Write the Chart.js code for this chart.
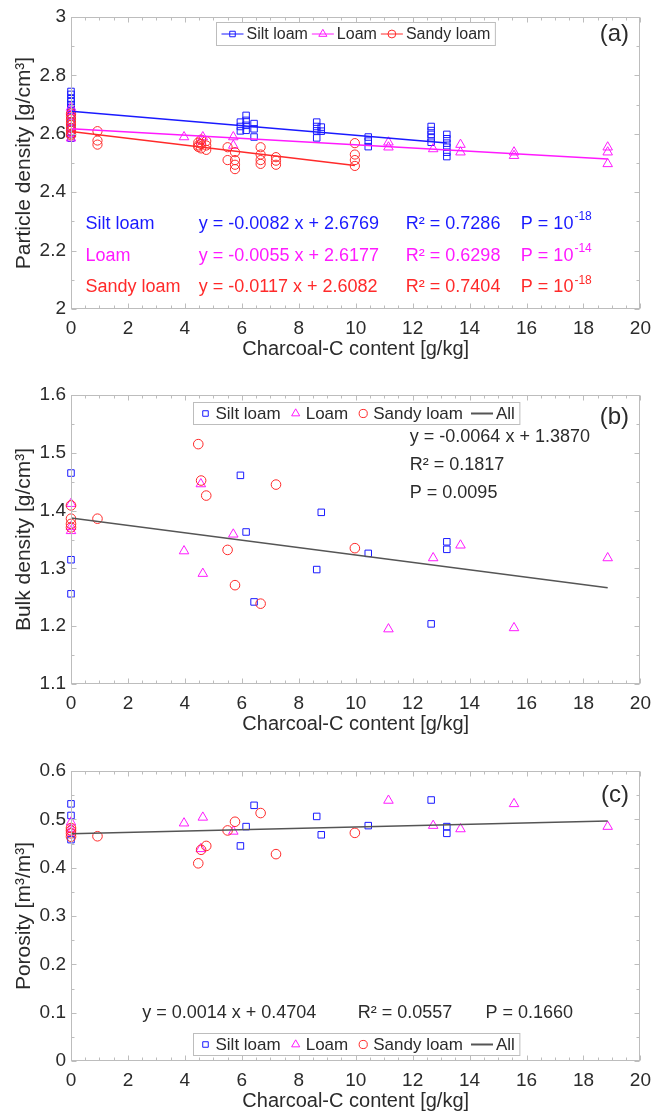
<!DOCTYPE html>
<html>
<head>
<meta charset="utf-8">
<script src="https://cdn.jsdelivr.net/npm/chart.js@4/dist/chart.umd.min.js"></script>
<style>
  html, body { margin: 0; padding: 0; background: #fff; }
  #wrap { position: relative; width: 659px; height: 1118px; }
  canvas { position: absolute; left: 0; }
</style>
</head>
<body>
<div id="wrap">
  <canvas id="chartA" width="659" height="375" style="top:0"></canvas>
  <canvas id="chartB" width="659" height="375" style="top:378px"></canvas>
  <canvas id="chartC" width="659" height="364" style="top:754px"></canvas>
</div>
<script>
// --- (a) particle density [g/cm3] ---
const pdSiltX  = [0,0,0,0,0,0,0,0,0,0,0,0, 5.95,5.95,5.95, 6.15,6.15,6.15,6.15, 6.43,6.43,6.43, 8.63,8.63,8.63,8.63, 8.79,8.79, 10.44,10.44,10.44, 12.65,12.65,12.65,12.65,12.65, 13.2,13.2,13.2,13.2,13.2,13.2];
const pdSiltY  = [2.745,2.735,2.72,2.71,2.70,2.69,2.68,2.665,2.64,2.62,2.60,2.585, 2.64,2.625,2.61, 2.663,2.646,2.629,2.612, 2.635,2.617,2.589, 2.64,2.625,2.61,2.586, 2.623,2.609, 2.589,2.575,2.556, 2.625,2.611,2.598,2.586,2.571, 2.598,2.583,2.568,2.554,2.537,2.522];
const pdLoamX  = [0,0,0,0,0,0,0, 3.97, 4.56,4.63, 5.7,5.7, 11.15,11.15, 12.72, 13.68,13.68, 15.56,15.56, 18.85,18.85,18.85];
const pdLoamY  = [2.69,2.675,2.66,2.64,2.62,2.60,2.585, 2.589, 2.575,2.589, 2.589,2.56, 2.571,2.554, 2.548, 2.563,2.537, 2.537,2.525, 2.554,2.537,2.497];
const pdSandyX = [0,0,0,0,0,0,0,0,0, 0.93,0.93,0.93, 4.47,4.47,4.47, 4.57,4.57,4.57, 4.75,4.75,4.75, 5.5,5.5, 5.76,5.76,5.76,5.76, 6.66,6.66,6.66,6.66, 7.2,7.2,7.2, 9.97,9.97,9.97,9.97];
const pdSandyY = [2.67,2.66,2.65,2.64,2.63,2.62,2.61,2.60,2.595, 2.609,2.577,2.563, 2.57,2.555,2.56, 2.55,2.58,2.565, 2.545,2.575,2.56, 2.554,2.51, 2.537,2.51,2.494,2.479, 2.554,2.529,2.51,2.497, 2.52,2.508,2.494, 2.568,2.529,2.51,2.49];
// regression per texture: slope, intercept, x range
const pdFitSlope = [-0.0082, -0.0055, -0.0117];
const pdFitIcept = [2.6769, 2.6177, 2.6082];
const pdFitXmax  = [13.2, 18.85, 9.97];

// --- (b) bulk density [g/cm3] ---
const bdSiltX  = [0,0,0, 5.95, 6.15, 6.43, 8.63, 8.79, 10.44, 12.65, 13.2, 13.2];
const bdSiltY  = [1.465,1.315,1.256, 1.461, 1.363, 1.242, 1.298, 1.397, 1.326, 1.204, 1.346, 1.333];
const bdLoamX  = [0,0,0, 3.97, 4.56, 4.63, 5.7, 11.15, 12.72, 13.68, 15.56, 18.85];
const bdLoamY  = [1.412,1.372,1.365, 1.330, 1.446, 1.291, 1.359, 1.195, 1.318, 1.340, 1.197, 1.318];
const bdSandyX = [0,0,0,0, 0.93, 4.47, 4.57, 4.75, 5.5, 5.76, 6.66, 7.2, 9.97];
const bdSandyY = [1.409,1.386,1.377,1.371, 1.386, 1.515, 1.452, 1.426, 1.332, 1.271, 1.239, 1.445, 1.335];
const bdFit = { slope: -0.0064, icept: 1.3870, xmax: 18.85 };

// --- (c) porosity [m3/m3] ---
const poSiltX  = [0,0,0, 5.95, 6.15, 6.43, 8.63, 8.79, 10.44, 12.65, 13.2, 13.2];
const poSiltY  = [0.532,0.508,0.458, 0.445, 0.485, 0.529, 0.506, 0.468, 0.487, 0.540, 0.485, 0.471];
const poLoamX  = [0,0,0, 3.97, 4.56, 4.63, 5.7, 11.15, 12.72, 13.68, 15.56, 18.85];
const poLoamY  = [0.494,0.480,0.473, 0.492, 0.439, 0.504, 0.475, 0.539, 0.487, 0.480, 0.532, 0.485];
const poSandyX = [0,0,0,0, 0.93, 4.47, 4.57, 4.75, 5.5, 5.76, 6.66, 7.2, 9.97];
const poSandyY = [0.482,0.477,0.471,0.464, 0.465, 0.409, 0.437, 0.445, 0.477, 0.495, 0.513, 0.428, 0.472];
const poFit = { slope: 0.0014, icept: 0.4704, xmax: 18.85 };

const xTicks = [0, 2, 4, 6, 8, 10, 12, 14, 16, 18, 20];

const BLUE = '#1a1aff', MAGENTA = '#ff1aff', RED = '#ff2a2a', DARK = '#2b2b2b', FRAME = '#bdbdbd';
const FONT = '"Liberation Sans", Arial, Helvetica, sans-serif';

const pts = (xs, ys) => xs.map((x, i) => ({ x: x, y: ys[i] }));
const fitLine = (slope, icept, xmax) => [{ x: 0, y: icept }, { x: xmax, y: icept + slope * xmax }];

// box outline + inward major/minor ticks on all four sides
const frameTicks = {
  id: 'frameTicks',
  afterDraw(chart, args, o) {
    const { ctx, chartArea: a, scales: { x, y } } = chart;
    ctx.save();
    ctx.strokeStyle = FRAME;
    ctx.lineWidth = 1;
    const L = Math.round(a.left) + 0.5, R = Math.round(a.right) - 0.5;
    const T = Math.round(a.top) + 0.5, B = Math.round(a.bottom) - 0.5;
    ctx.strokeRect(L, T, R - L, B - T);
    ctx.beginPath();
    for (let i = 0; i <= 40; i++) {
      const v = i * 0.5;
      const len = i % 4 === 0 ? 5 : 3;
      const px = Math.round(x.getPixelForValue(v)) + 0.5;
      ctx.moveTo(px, B); ctx.lineTo(px, B - len);
      ctx.moveTo(px, T); ctx.lineTo(px, T + len);
    }
    const n = Math.round((o.ymax - o.ymin) / o.yminor);
    for (let i = 0; i <= n; i++) {
      const v = o.ymin + i * o.yminor;
      const len = i % 2 === 0 ? 5 : 3;
      const py = Math.round(y.getPixelForValue(v)) + 0.5;
      ctx.moveTo(L, py); ctx.lineTo(L + len, py);
      ctx.moveTo(R, py); ctx.lineTo(R - len, py);
    }
    ctx.stroke();
    ctx.restore();
  }
};

// equation / statistics text placed in data coordinates
const noteText = {
  id: 'noteText',
  afterDraw(chart, args, o) {
    const { ctx, scales: { x, y } } = chart;
    ctx.save();
    ctx.textBaseline = 'middle';
    (o.items || []).forEach(it => {
      const px = x.getPixelForValue(it.x), py = y.getPixelForValue(it.y);
      ctx.font = (it.size || 18) + 'px ' + FONT;
      ctx.fillStyle = it.color || DARK;
      ctx.textAlign = it.align || 'left';
      ctx.fillText(it.text, px, py);
      if (it.sup) {
        const w = ctx.measureText(it.text).width;
        ctx.font = '12px ' + FONT;
        ctx.textAlign = 'left';
        ctx.fillText(it.sup, px + w + 1, py - 7);
      }
    });
    ctx.restore();
  }
};

// framed legend drawn inside the plot area
const boxLegend = {
  id: 'boxLegend',
  afterDraw(chart, args, o) {
    const { ctx, chartArea: a, scales: { x } } = chart;
    const items = chart.data.datasets.filter(d => d.legendSample);
    ctx.save();
    ctx.font = o.size + 'px ' + FONT;
    const sampleW = s => s === 'marker' ? 14 : 22;
    const widths = items.map(d => sampleW(d.legendSample) + 3 + ctx.measureText(d.label).width);
    const pad = 5, h = o.height;
    const total = pad * 2 + widths.reduce((s, w) => s + w, 0) + o.gap * (items.length - 1);
    const left = Math.round(x.getPixelForValue(o.centerX) - total / 2) + 0.5;
    const top = Math.round(o.pos === 'top' ? a.top + o.offset : a.bottom - o.offset - h) + 0.5;
    ctx.fillStyle = '#fff';
    ctx.fillRect(left, top, total, h);
    ctx.strokeStyle = FRAME;
    ctx.lineWidth = 1;
    ctx.strokeRect(left, top, total, h);
    let cx = left + pad;
    const cy = top + h / 2;
    items.forEach((d, i) => {
      const sw = sampleW(d.legendSample);
      ctx.strokeStyle = d.borderColor;
      ctx.fillStyle = 'rgba(0,0,0,0)';
      if (d.legendSample !== 'marker') {
        ctx.lineWidth = d.legendSample === 'line' ? 2 : 1;
        ctx.beginPath();
        ctx.moveTo(cx, cy); ctx.lineTo(cx + sw, cy);
        ctx.stroke();
      }
      if (d.legendSample !== 'line') {
        ctx.lineWidth = 1;
        Chart.helpers.drawPoint(ctx, { pointStyle: d.pointStyle, radius: d.pointRadius * 0.85, rotation: 0, borderWidth: 1 }, cx + sw / 2, cy);
      }
      ctx.fillStyle = DARK;
      ctx.textAlign = 'left';
      ctx.textBaseline = 'middle';
      ctx.fillText(d.label, cx + sw + 3, cy + 1);
      cx += widths[i] + o.gap;
    });
    ctx.restore();
  }
};

function seriesSet(label, xs, ys, color, style, radius, sample, order) {
  return {
    type: 'scatter', label: label, data: pts(xs, ys), clip: false,
    borderColor: color, backgroundColor: 'rgba(0,0,0,0)',
    pointStyle: style, pointRadius: radius, pointBorderWidth: 1, pointHoverRadius: radius,
    legendSample: sample, order: order
  };
}
function lineSet(label, data, color, width, sample) {
  return {
    type: 'line', label: label, data: data, borderColor: color, borderWidth: width,
    pointRadius: 0, fill: false, tension: 0, legendSample: sample, order: 0
  };
}

function makeChart(id, cfg) {
  const H = cfg.height, plotTop = 17, plotLeft = 71, plotRight = 644, xAxisH = 52;
  return new Chart(document.getElementById(id), {
    data: { datasets: cfg.datasets },
    options: {
      responsive: false, animation: false, devicePixelRatio: 1,
      layout: { padding: { top: plotTop, left: 4, right: 659 - plotRight, bottom: H - cfg.plotBottom - xAxisH } },
      plugins: {
        legend: { display: false }, tooltip: { enabled: false },
        frameTicks: { ymin: cfg.ymin, ymax: cfg.ymax, yminor: cfg.ystep / 2 },
        noteText: { items: cfg.notes },
        boxLegend: cfg.legend
      },
      scales: {
        x: {
          type: 'linear', min: 0, max: 20,
          afterBuildTicks: s => { s.ticks = xTicks.map(v => ({ value: v })); },
          ticks: { color: DARK, font: { family: FONT, size: 19 }, padding: 8, maxRotation: 0 },
          grid: { display: false, drawTicks: false }, border: { display: false },
          title: { display: true, text: 'Charcoal-C content [g/kg]', color: DARK, font: { family: FONT, size: 20 }, padding: 0 },
          afterFit: s => { s.height = xAxisH; }
        },
        y: {
          type: 'linear', min: cfg.ymin, max: cfg.ymax,
          ticks: { stepSize: cfg.ystep, color: DARK, font: { family: FONT, size: 19 }, padding: 5,
                   callback: v => String(+v.toFixed(2)) },
          grid: { display: false, drawTicks: false }, border: { display: false },
          title: { display: true, text: cfg.ytitle, color: DARK, font: { family: FONT, size: 21 }, padding: { top: 8, bottom: 0 } },
          afterFit: s => { s.width = plotLeft - 4; }
        }
      }
    },
    plugins: [frameTicks, noteText, boxLegend]
  });
}

// (a)
makeChart('chartA', {
  height: 375, plotBottom: 309, ymin: 2, ymax: 3, ystep: 0.2,
  ytitle: 'Particle density [g/cm³]',
  datasets: [
    seriesSet('Silt loam', pdSiltX, pdSiltY, BLUE, 'rect', 4.6, 'lineMarker', 3),
    seriesSet('Loam', pdLoamX, pdLoamY, MAGENTA, 'triangle', 5.5, 'lineMarker', 2),
    seriesSet('Sandy loam', pdSandyX, pdSandyY, RED, 'circle', 4.6, 'lineMarker', 1),
    lineSet('Silt loam fit', fitLine(pdFitSlope[0], pdFitIcept[0], pdFitXmax[0]), BLUE, 1.5, null),
    lineSet('Loam fit', fitLine(pdFitSlope[1], pdFitIcept[1], pdFitXmax[1]), MAGENTA, 1.5, null),
    lineSet('Sandy loam fit', fitLine(pdFitSlope[2], pdFitIcept[2], pdFitXmax[2]), RED, 1.5, null)
  ],
  legend: { centerX: 10, pos: 'top', offset: 5, size: 16, gap: 4, height: 23 },
  notes: [
    { x: 0.51, y: 2.291, text: 'Silt loam', color: BLUE },
    { x: 4.49, y: 2.291, text: 'y = -0.0082 x + 2.6769', color: BLUE },
    { x: 11.76, y: 2.291, text: 'R² = 0.7286', color: BLUE },
    { x: 15.8, y: 2.291, text: 'P = 10', sup: '-18', color: BLUE },
    { x: 0.51, y: 2.183, text: 'Loam', color: MAGENTA },
    { x: 4.49, y: 2.183, text: 'y = -0.0055 x + 2.6177', color: MAGENTA },
    { x: 11.76, y: 2.183, text: 'R² = 0.6298', color: MAGENTA },
    { x: 15.8, y: 2.183, text: 'P = 10', sup: '-14', color: MAGENTA },
    { x: 0.51, y: 2.074, text: 'Sandy loam', color: RED },
    { x: 4.49, y: 2.074, text: 'y = -0.0117 x + 2.6082', color: RED },
    { x: 11.76, y: 2.074, text: 'R² = 0.7404', color: RED },
    { x: 15.8, y: 2.074, text: 'P = 10', sup: '-18', color: RED },
    { x: 19.6, y: 2.94, text: '(a)', align: 'right', size: 24 }
  ]
});

// (b)
makeChart('chartB', {
  height: 375, plotBottom: 306, ymin: 1.1, ymax: 1.6, ystep: 0.1,
  ytitle: 'Bulk density [g/cm³]',
  datasets: [
    seriesSet('Silt loam', bdSiltX, bdSiltY, BLUE, 'rect', 4.6, 'marker', 3),
    seriesSet('Loam', bdLoamX, bdLoamY, MAGENTA, 'triangle', 5.5, 'marker', 2),
    seriesSet('Sandy loam', bdSandyX, bdSandyY, RED, 'circle', 4.8, 'marker', 1),
    lineSet('All', fitLine(bdFit.slope, bdFit.icept, bdFit.xmax), '#555555', 1.5, 'line')
  ],
  legend: { centerX: 10, pos: 'top', offset: 7, size: 17, gap: 8, height: 22 },
  notes: [
    { x: 11.9, y: 1.528, text: 'y = -0.0064 x + 1.3870' },
    { x: 11.9, y: 1.478, text: 'R² = 0.1817' },
    { x: 11.9, y: 1.430, text: 'P = 0.0095' },
    { x: 19.6, y: 1.562, text: '(b)', align: 'right', size: 24 }
  ]
});

// (c)
makeChart('chartC', {
  height: 364, plotBottom: 307, ymin: 0, ymax: 0.6, ystep: 0.1,
  ytitle: 'Porosity [m³/m³]',
  datasets: [
    seriesSet('Silt loam', poSiltX, poSiltY, BLUE, 'rect', 4.6, 'marker', 3),
    seriesSet('Loam', poLoamX, poLoamY, MAGENTA, 'triangle', 5.5, 'marker', 2),
    seriesSet('Sandy loam', poSandyX, poSandyY, RED, 'circle', 4.8, 'marker', 1),
    lineSet('All', fitLine(poFit.slope, poFit.icept, poFit.xmax), '#555555', 1.5, 'line')
  ],
  legend: { centerX: 10, pos: 'bottom', offset: 6, size: 17, gap: 8, height: 22 },
  notes: [
    { x: 2.5, y: 0.1, text: 'y = 0.0014 x + 0.4704' },
    { x: 10.07, y: 0.1, text: 'R² = 0.0557' },
    { x: 14.56, y: 0.1, text: 'P = 0.1660' },
    { x: 19.6, y: 0.549, text: '(c)', align: 'right', size: 24 }
  ]
});
</script>
</body>
</html>
